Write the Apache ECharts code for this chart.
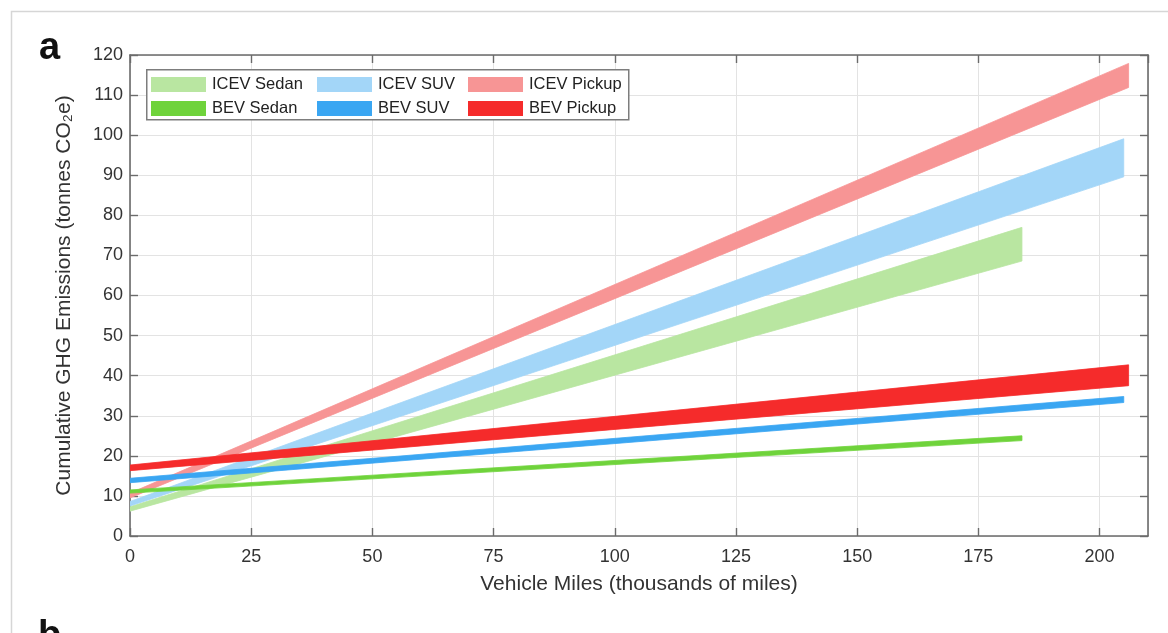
<!DOCTYPE html>
<html>
<head>
<meta charset="utf-8">
<script src="https://cdn.jsdelivr.net/npm/echarts@6/dist/echarts.min.js"></script>
<style>
html,body{margin:0;padding:0;background:#fff;}
#chart{width:1168px;height:633px;}
</style>
</head>
<body>
<div id="chart"></div>
<script>
// ---- data ----
const seriesNames = ['ICEV Sedan', 'ICEV SUV', 'ICEV Pickup', 'BEV Sedan', 'BEV SUV', 'BEV Pickup'];
const xTicks = [0, 25, 50, 75, 100, 125, 150, 175, 200];
const yTicks = [0, 10, 20, 30, 40, 50, 60, 70, 80, 90, 100, 110, 120];

// vehicle miles (thousands) at start and end of each band
const milesSedan = [0, 184];
const milesSUV = [0, 205];
const milesPickup = [0, 206];

// lower / upper edges of each band (tonnes CO2e)
const icevSedanLow = [6.2, 68.6];
const icevSedanHigh = [7.3, 77.0];
const icevSUVLow = [7.5, 89.6];
const icevSUVHigh = [8.6, 99.1];
const icevPickupLow = [9.5, 111.9];
const icevPickupHigh = [10.7, 117.9];
const bevSedanLow = [10.7, 23.8];
const bevSedanHigh = [11.5, 25.0];
const bevSUVLow = [13.3, 33.3];
const bevSUVHigh = [14.4, 34.8];
const bevPickupLow = [16.3, 37.5];
const bevPickupHigh = [17.7, 42.7];

const colors = ['#b9e6a1', '#a3d6f8', '#f79595', '#6fd33b', '#3aa6f2', '#f52b2b'];

// ---- build ----
function bandData(miles, low, high) {
  const out = [];
  for (let i = 0; i < miles.length - 1; i++) {
    out.push([miles[i], low[i], high[i], miles[i + 1], low[i + 1], high[i + 1]]);
  }
  return out;
}
const bands = [
  bandData(milesSedan, icevSedanLow, icevSedanHigh),
  bandData(milesSUV, icevSUVLow, icevSUVHigh),
  bandData(milesPickup, icevPickupLow, icevPickupHigh),
  bandData(milesSedan, bevSedanLow, bevSedanHigh),
  bandData(milesSUV, bevSUVLow, bevSUVHigh),
  bandData(milesPickup, bevPickupLow, bevPickupHigh)
];

function renderBand(params, api) {
  const p1 = api.coord([api.value(0), api.value(1)]);
  const p2 = api.coord([api.value(0), api.value(2)]);
  const p3 = api.coord([api.value(3), api.value(5)]);
  const p4 = api.coord([api.value(3), api.value(4)]);
  return {
    type: 'polygon',
    shape: { points: [p1, p2, p3, p4] },
    style: { fill: api.visual('color'), stroke: api.visual('color'), lineWidth: 0.8 }
  };
}

const series = seriesNames.map((name, i) => ({
  name: name,
  type: 'custom',
  renderItem: renderBand,
  clip: true,
  color: colors[i],
  itemStyle: { color: colors[i] },
  encode: { x: [0, 3], y: [1, 2, 4, 5] },
  data: bands[i],
  z: 2 + i
}));

const FONT = '"Liberation Sans", Arial, sans-serif';
const axisColor = '#6b6b6b';
const labelColor = '#333';

function legendCol(names, left) {
  return {
    data: names,
    orient: 'vertical',
    left: left,
    top: 76,
    padding: 0,
    itemWidth: 55,
    itemHeight: 15,
    itemGap: 7,
    icon: 'rect',
    selectedMode: false,
    textStyle: { fontFamily: FONT, fontSize: 16.5, color: '#222', padding: [0, 0, 0, 1] },
    z: 10
  };
}

const chart = echarts.init(document.getElementById('chart'), null, { renderer: 'canvas' });
chart.setOption({
  animation: false,
  backgroundColor: '#fff',
  textStyle: { fontFamily: FONT },
  grid: { left: 130, right: 20, top: 55, bottom: 97, containLabel: false },
  legend: [
    legendCol(['ICEV Sedan', 'BEV Sedan'], 151),
    legendCol(['ICEV SUV', 'BEV SUV'], 317),
    legendCol(['ICEV Pickup', 'BEV Pickup'], 468)
  ],
  graphic: {
    elements: [
      {
        type: 'rect', left: 9, top: 9, z: 0, silent: true,
        shape: { x: 0, y: 0, width: 1200, height: 700 },
        style: { fill: 'none', stroke: '#d6d6d6', lineWidth: 1.5 }
      },
      {
        type: 'rect', left: 146, top: 69, z: 9, silent: true,
        shape: { x: 0, y: 0, width: 482, height: 50 },
        style: { fill: '#fff', stroke: '#7d7d7d', lineWidth: 1.5 }
      },
      {
        type: 'text', left: 39, top: 30, z: 10, silent: true,
        style: { text: 'a', font: 'bold 38px ' + FONT, fill: '#111' }
      },
      {
        type: 'text', left: 38, top: 618, z: 10, silent: true,
        style: { text: 'b', font: 'bold 38px ' + FONT, fill: '#111' }
      }
    ]
  },
  xAxis: [
    {
      type: 'value', min: 0, max: 210, interval: 25, position: 'bottom',
      name: 'Vehicle Miles (thousands of miles)', nameLocation: 'middle', nameGap: 38,
      nameTextStyle: { fontFamily: FONT, fontSize: 21, color: labelColor },
      axisLine: { show: true, onZero: false, lineStyle: { color: axisColor, width: 1.6 } },
      axisTick: { show: true, inside: true, length: 8, lineStyle: { color: axisColor, width: 1.4 } },
      axisLabel: {
        fontFamily: FONT, fontSize: 18, color: labelColor, margin: 12, showMaxLabel: false,
        formatter: v => (xTicks.indexOf(v) >= 0 ? String(v) : '')
      },
      splitLine: { show: true, lineStyle: { color: '#e3e3e3', width: 1 } }
    },
    {
      type: 'value', min: 0, max: 210, interval: 25, position: 'top',
      axisLine: { show: true, onZero: false, lineStyle: { color: axisColor, width: 1.6 } },
      axisTick: { show: true, inside: true, length: 8, lineStyle: { color: axisColor, width: 1.4 } },
      axisLabel: { show: false },
      splitLine: { show: false }
    }
  ],
  yAxis: [
    {
      type: 'value', min: 0, max: 120, interval: 10, position: 'left',
      name: 'Cumulative GHG Emissions (tonnes CO\u2082e)', nameLocation: 'middle', nameGap: 55,
      nameRotate: 90,
      nameTextStyle: { fontFamily: FONT, fontSize: 21, color: labelColor },
      axisLine: { show: true, onZero: false, lineStyle: { color: axisColor, width: 1.6 } },
      axisTick: { show: true, inside: true, length: 8, lineStyle: { color: axisColor, width: 1.4 } },
      axisLabel: {
        fontFamily: FONT, fontSize: 18, color: labelColor, margin: 7,
        formatter: v => (yTicks.indexOf(v) >= 0 ? String(v) : '')
      },
      splitLine: { show: true, lineStyle: { color: '#e3e3e3', width: 1 } }
    },
    {
      type: 'value', min: 0, max: 120, interval: 10, position: 'right',
      axisLine: { show: true, onZero: false, lineStyle: { color: axisColor, width: 1.6 } },
      axisTick: { show: true, inside: true, length: 8, lineStyle: { color: axisColor, width: 1.4 } },
      axisLabel: { show: false },
      splitLine: { show: false }
    }
  ],
  series: series
});
</script>
</body>
</html>
